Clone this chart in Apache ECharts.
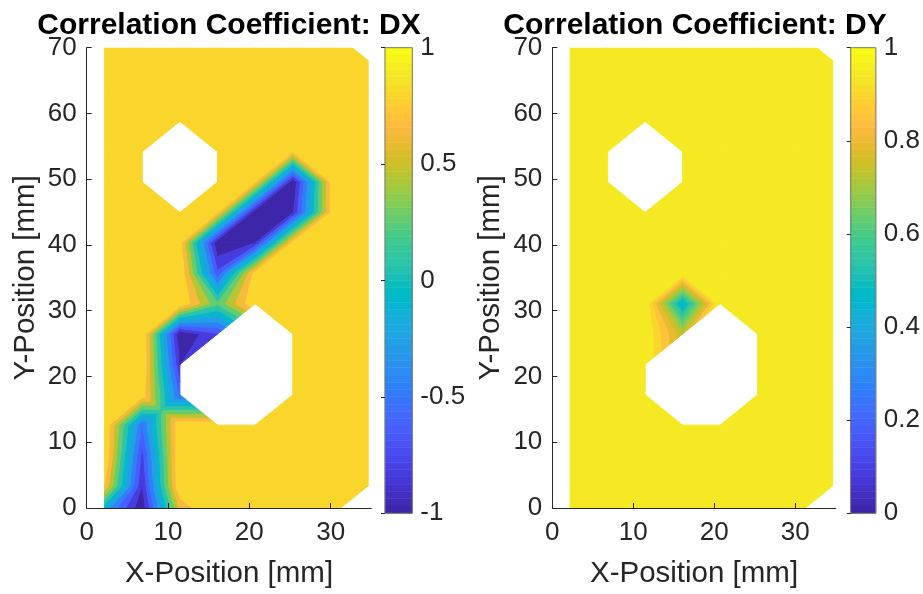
<!DOCTYPE html>
<html>
<head>
<meta charset="utf-8">
<title>Correlation Coefficient</title>
<script src="https://cdn.jsdelivr.net/npm/echarts@6/dist/echarts.min.js"></script>
<style>
  html, body { margin: 0; padding: 0; background: #fff; }
  #chart { width: 923px; height: 594px; }
</style>
</head>
<body>
<div id="chart"></div>
<script>
// measurement grid (mm)
const X_NODES = [2.20, 6.83, 11.46, 16.09, 20.72, 25.35, 29.98, 34.61];
const Y_NODES = [-1.26, 3.36, 7.98, 12.60, 17.22, 21.84, 26.46, 31.08, 35.70,
  40.32, 44.94, 49.56, 54.18, 58.80, 63.42, 68.04, 72.66];

// correlation coefficient per node, rows bottom -> top, null = no data
const DX_VALUES = [
  [-0.35, -1.00, 0.54, 0.99, 0.99, 0.99, 0.99, null],
  [0.80, -0.82, 0.99, 0.99, 0.99, 0.99, 0.99, 0.99],
  [0.99, -0.70, 0.99, 0.99, 0.99, 0.99, 0.99, 0.99],
  [0.99, -0.46, 0.97, 0.95, 0.99, 0.99, 0.99, 0.99],
  [0.99, 0.92, -0.50, null, null, 0.99, 0.99, 0.99],
  [0.99, 0.99, -0.83, null, null, 0.99, 0.99, 0.99],
  [0.99, 0.99, -1.00, -0.66, null, 0.99, 0.99, 0.99],
  [0.99, 0.99, 0.99, 0.30, 0.99, 0.99, 0.99, 0.99],
  [0.99, 0.99, 0.99, -0.60, 0.90, 0.99, 0.99, 0.99],
  [0.99, 0.99, 0.88, -1.00, -0.82, 0.88, 0.99, 0.99],
  [0.99, 0.99, 0.99, 0.82, -1.00, -0.85, 0.81, 0.99],
  [0.99, 0.99, null, 0.99, 0.82, -1.00, 0.81, 0.99],
  [0.99, 0.99, null, 0.99, 0.99, 0.82, 0.99, 0.99],
  [0.99, 0.99, 0.99, 0.99, 0.99, 0.99, 0.99, 0.99],
  [0.99, 0.99, 0.99, 0.99, 0.99, 0.99, 0.99, 0.99],
  [0.99, 0.99, 0.99, 0.99, 0.99, 0.99, 0.99, 0.99],
  [0.99, 0.99, 0.99, 0.99, 0.99, 0.99, 0.99, null]
];

const DY_VALUES = [
  [0.995, 0.995, 0.995, 0.995, 0.995, 0.995, 0.995, null],
  [0.995, 0.995, 0.995, 0.995, 0.995, 0.995, 0.995, 0.995],
  [0.995, 0.995, 0.995, 0.995, 0.995, 0.995, 0.995, 0.995],
  [0.995, 0.995, 0.995, 0.995, 0.995, 0.995, 0.995, 0.995],
  [0.995, 0.995, 0.995, null, null, 0.995, 0.995, 0.995],
  [0.995, 0.995, 0.995, null, null, 0.995, 0.995, 0.995],
  [0.995, 0.995, 0.995, 0.76, null, 0.995, 0.995, 0.995],
  [0.995, 0.995, 0.995, 0.45, 0.995, 0.995, 0.995, 0.995],
  [0.995, 0.995, 0.995, 0.995, 0.995, 0.995, 0.995, 0.995],
  [0.995, 0.995, 0.995, 0.995, 0.995, 0.995, 0.995, 0.995],
  [0.995, 0.995, 0.995, 0.995, 0.995, 0.995, 0.995, 0.995],
  [0.995, 0.995, null, 0.995, 0.995, 0.995, 0.995, 0.995],
  [0.995, 0.995, null, 0.995, 0.995, 0.995, 0.995, 0.995],
  [0.995, 0.995, 0.995, 0.995, 0.995, 0.995, 0.995, 0.995],
  [0.995, 0.995, 0.995, 0.995, 0.995, 0.995, 0.995, 0.995],
  [0.995, 0.995, 0.995, 0.995, 0.995, 0.995, 0.995, 0.995],
  [0.995, 0.995, 0.995, 0.995, 0.995, 0.995, 0.995, null]
];

// contour levels (10 levels between data min and max)
const DX_LEVELS = [-0.8191, -0.6382, -0.4573, -0.2764, -0.0955, 0.0855, 0.2664, 0.4473, 0.6282, 0.8091];
const DY_LEVELS = [0.4995, 0.5491, 0.5986, 0.6482, 0.6977, 0.7473, 0.7968, 0.8464, 0.8959, 0.9455];

const X_TICKS = [0, 10, 20, 30];
const Y_TICKS = [0, 10, 20, 30, 40, 50, 60, 70];
const DX_BAR_TICKS = [-1, -0.5, 0, 0.5, 1];
const DY_BAR_TICKS = [0, 0.2, 0.4, 0.6, 0.8, 1];

const PARULA = [
  [0.2422, 0.1504, 0.6603], [0.2504, 0.1650, 0.7076], [0.2578, 0.1818, 0.7511], [0.2647, 0.1978, 0.7952],
  [0.2706, 0.2147, 0.8364], [0.2751, 0.2342, 0.8710], [0.2783, 0.2559, 0.8991], [0.2803, 0.2782, 0.9221],
  [0.2813, 0.3006, 0.9414], [0.2810, 0.3228, 0.9579], [0.2795, 0.3447, 0.9717], [0.2760, 0.3667, 0.9829],
  [0.2699, 0.3892, 0.9906], [0.2602, 0.4123, 0.9952], [0.2440, 0.4358, 0.9988], [0.2206, 0.4603, 0.9973],
  [0.1963, 0.4847, 0.9892], [0.1834, 0.5074, 0.9798], [0.1786, 0.5289, 0.9682], [0.1764, 0.5499, 0.9520],
  [0.1687, 0.5703, 0.9359], [0.1540, 0.5902, 0.9218], [0.1460, 0.6091, 0.9079], [0.1380, 0.6276, 0.8973],
  [0.1248, 0.6459, 0.8883], [0.1113, 0.6635, 0.8763], [0.0952, 0.6798, 0.8598], [0.0689, 0.6948, 0.8394],
  [0.0297, 0.7082, 0.8163], [0.0036, 0.7203, 0.7917], [0.0067, 0.7312, 0.7660], [0.0433, 0.7411, 0.7394],
  [0.0964, 0.7500, 0.7120], [0.1408, 0.7584, 0.6842], [0.1717, 0.7670, 0.6554], [0.1938, 0.7758, 0.6251],
  [0.2161, 0.7843, 0.5923], [0.2470, 0.7918, 0.5567], [0.2906, 0.7973, 0.5188], [0.3406, 0.8008, 0.4789],
  [0.3909, 0.8029, 0.4354], [0.4456, 0.8024, 0.3909], [0.5044, 0.7993, 0.3480], [0.5616, 0.7942, 0.3045],
  [0.6174, 0.7876, 0.2612], [0.6720, 0.7793, 0.2227], [0.7242, 0.7698, 0.1910], [0.7738, 0.7598, 0.1646],
  [0.8203, 0.7498, 0.1535], [0.8634, 0.7406, 0.1596], [0.9035, 0.7330, 0.1774], [0.9393, 0.7288, 0.2100],
  [0.9728, 0.7298, 0.2394], [0.9956, 0.7434, 0.2371], [0.9970, 0.7659, 0.2199], [0.9952, 0.7893, 0.2028],
  [0.9892, 0.8136, 0.1885], [0.9786, 0.8386, 0.1766], [0.9676, 0.8639, 0.1643], [0.9610, 0.8890, 0.1537],
  [0.9597, 0.9135, 0.1423], [0.9628, 0.9373, 0.1265], [0.9691, 0.9606, 0.1064], [0.9769, 0.9839, 0.0805]
];

const FONT = "'Liberation Sans', Arial, Helvetica, sans-serif";
const AXIS_COLOR = "#262626";

function rgb(entry) {
  return `rgb(${entry.map((c) => Math.round(c * 255)).join(",")})`;
}

function parulaColor(value, cmin, cmax) {
  let index = Math.floor(((value - cmin) / (cmax - cmin)) * PARULA.length);
  index = Math.max(0, Math.min(PARULA.length - 1, index));
  return rgb(PARULA[index]);
}

// keep the part of a polygon above (or below) a level, values linear along edges
function clipByLevel(poly, level, keepAbove) {
  const inside = (p) => (keepAbove ? p.v >= level : p.v <= level);
  const out = [];
  for (let n = 0; n < poly.length; n++) {
    const a = poly[n];
    const b = poly[(n + 1) % poly.length];
    const ia = inside(a);
    const ib = inside(b);
    if (ia) {
      out.push(a);
    }
    if (ia !== ib) {
      const t = (level - a.v) / (b.v - a.v);
      out.push({ x: a.x + t * (b.x - a.x), y: a.y + t * (b.y - a.y), v: level });
    }
  }
  return out;
}

function cellList() {
  const cells = [];
  for (let j = 0; j < Y_NODES.length - 1; j++) {
    for (let i = 0; i < X_NODES.length - 1; i++) {
      cells.push([i, j]);
    }
  }
  return cells;
}

const CELLS = cellList();

function separates(levels, low, high) {
  return levels.some((level) => low < level && level <= high);
}

// pieces of one grid cell: the quad, the triangle left by a missing corner,
// or four triangles round the centre when a level makes the cell a saddle
function cellPieces(values, levels, i, j) {
  const corners = [[i, j], [i + 1, j], [i + 1, j + 1], [i, j + 1]];
  const poly = [];
  corners.forEach(([c, r]) => {
    const v = values[r][c];
    if (v !== null) {
      poly.push({ x: X_NODES[c], y: Y_NODES[r], v });
    }
  });
  if (poly.length < 3) {
    return [];
  }
  if (poly.length === 3) {
    return [poly];
  }

  const [a, b, c, d] = poly;
  const saddle =
    separates(levels, Math.max(a.v, c.v), Math.min(b.v, d.v)) ||
    separates(levels, Math.max(b.v, d.v), Math.min(a.v, c.v));
  if (!saddle) {
    return [poly];
  }
  const centre = {
    x: (a.x + b.x + c.x + d.x) / 4,
    y: (a.y + b.y + c.y + d.y) / 4,
    v: (a.v + b.v + c.v + d.v) / 4
  };
  return [[a, b, centre], [b, c, centre], [c, d, centre], [d, a, centre]];
}

function contourSeries(index, values, levels, cmin, cmax) {
  const zmin = Math.min(...values.flat().filter((v) => v !== null));
  const bandColors = [zmin, ...levels].map((v) => parulaColor(v, cmin, cmax));

  return {
    type: "custom",
    xAxisIndex: index,
    yAxisIndex: index,
    clip: true,
    silent: true,
    animation: false,
    data: CELLS,
    renderItem(params, api) {
      const [i, j] = CELLS[params.dataIndex];
      const children = [];
      cellPieces(values, levels, i, j).forEach((poly) => {
        for (let k = 0; k <= levels.length; k++) {
          let part = poly;
          if (k > 0) {
            part = clipByLevel(part, levels[k - 1], true);
          }
          if (k < levels.length && part.length >= 3) {
            part = clipByLevel(part, levels[k], false);
          }
          if (part.length < 3) {
            continue;
          }
          const color = bandColors[k];
          children.push({
            type: "polygon",
            shape: { points: part.map((p) => api.coord([p.x, p.y])) },
            style: { fill: color, stroke: color, lineWidth: 1, lineJoin: "round" }
          });
        }
      });
      return children.length ? { type: "group", children } : null;
    }
  };
}

function colorbarSeries(index, cmin, cmax) {
  const step = (cmax - cmin) / PARULA.length;
  return {
    type: "custom",
    xAxisIndex: index,
    yAxisIndex: index,
    silent: true,
    animation: false,
    data: PARULA.map((c, i) => [0, cmin + i * step]),
    renderItem(params, api) {
      const i = params.dataIndex;
      const p0 = api.coord([0, cmin + i * step]);
      const p1 = api.coord([1, cmin + (i + 1) * step]);
      const color = rgb(PARULA[i]);
      return {
        type: "rect",
        shape: { x: p0[0], y: p1[1], width: p1[0] - p0[0], height: p0[1] - p1[1] },
        style: { fill: color, stroke: color, lineWidth: 0.5 }
      };
    }
  };
}

function plotXAxis(index) {
  return {
    type: "value",
    gridIndex: index,
    min: 0,
    max: 35,
    z: 10,
    axisLine: { show: true, onZero: false, lineStyle: { color: AXIS_COLOR, width: 1 } },
    axisTick: { show: true, inside: true, length: 5, customValues: X_TICKS, lineStyle: { color: AXIS_COLOR } },
    axisLabel: { customValues: X_TICKS, color: AXIS_COLOR, fontSize: 26, fontFamily: FONT, margin: 12 },
    splitLine: { show: false },
    name: "X-Position [mm]",
    nameLocation: "middle",
    nameGap: 51,
    nameTextStyle: { color: AXIS_COLOR, fontSize: 29.5, fontFamily: FONT }
  };
}

function plotYAxis(index) {
  return {
    type: "value",
    gridIndex: index,
    min: 0,
    max: 70,
    z: 10,
    axisLine: { show: true, onZero: false, lineStyle: { color: AXIS_COLOR, width: 1 } },
    axisTick: { show: true, inside: true, length: 5, customValues: Y_TICKS, lineStyle: { color: AXIS_COLOR } },
    axisLabel: { customValues: Y_TICKS, color: AXIS_COLOR, fontSize: 26, fontFamily: FONT, margin: 10 },
    splitLine: { show: false },
    name: "Y-Position [mm]",
    nameLocation: "middle",
    nameGap: 46,
    nameTextStyle: { color: AXIS_COLOR, fontSize: 29.5, fontFamily: FONT }
  };
}

function barXAxis(index) {
  return { type: "value", gridIndex: index, min: 0, max: 1, show: false };
}

function barYAxis(index, cmin, cmax, ticks) {
  return {
    type: "value",
    gridIndex: index,
    min: cmin,
    max: cmax,
    position: "right",
    z: 10,
    axisLine: { show: false },
    axisTick: { show: true, inside: true, length: 4, customValues: ticks, lineStyle: { color: AXIS_COLOR } },
    axisLabel: { customValues: ticks, color: AXIS_COLOR, fontSize: 26, fontFamily: FONT, margin: 8 },
    splitLine: { show: false }
  };
}

const PLOT_TOP = 47.7;
const PLOT_HEIGHT = 465.6;

const chart = echarts.init(document.getElementById("chart"), null, { renderer: "canvas" });

chart.setOption({
  animation: false,
  backgroundColor: "#ffffff",
  grid: [
    { left: 86.7, top: PLOT_TOP, width: 284.6, height: PLOT_HEIGHT },
    { left: 385, top: PLOT_TOP, width: 27.3, height: PLOT_HEIGHT, show: true, z: 10,
      borderColor: "#777777", borderWidth: 1, backgroundColor: "transparent" },
    { left: 552.3, top: PLOT_TOP, width: 283.5, height: PLOT_HEIGHT },
    { left: 850.7, top: PLOT_TOP, width: 27, height: PLOT_HEIGHT, show: true, z: 10,
      borderColor: "#777777", borderWidth: 1, backgroundColor: "transparent" }
  ],
  xAxis: [plotXAxis(0), barXAxis(1), plotXAxis(2), barXAxis(3)],
  yAxis: [
    plotYAxis(0),
    barYAxis(1, -1, 1, DX_BAR_TICKS),
    plotYAxis(2),
    barYAxis(3, 0, 1, DY_BAR_TICKS)
  ],
  graphic: [
    {
      type: "text",
      x: 229,
      y: 26,
      style: {
        text: "Correlation Coefficient: DX",
        font: `bold 30px ${FONT}`,
        fill: "#000000",
        align: "center",
        verticalAlign: "middle"
      }
    },
    {
      type: "text",
      x: 695,
      y: 26,
      style: {
        text: "Correlation Coefficient: DY",
        font: `bold 30px ${FONT}`,
        fill: "#000000",
        align: "center",
        verticalAlign: "middle"
      }
    }
  ],
  series: [
    contourSeries(0, DX_VALUES, DX_LEVELS, -1, 1),
    colorbarSeries(1, -1, 1),
    contourSeries(2, DY_VALUES, DY_LEVELS, 0, 1),
    colorbarSeries(3, 0, 1)
  ]
});
</script>
</body>
</html>
